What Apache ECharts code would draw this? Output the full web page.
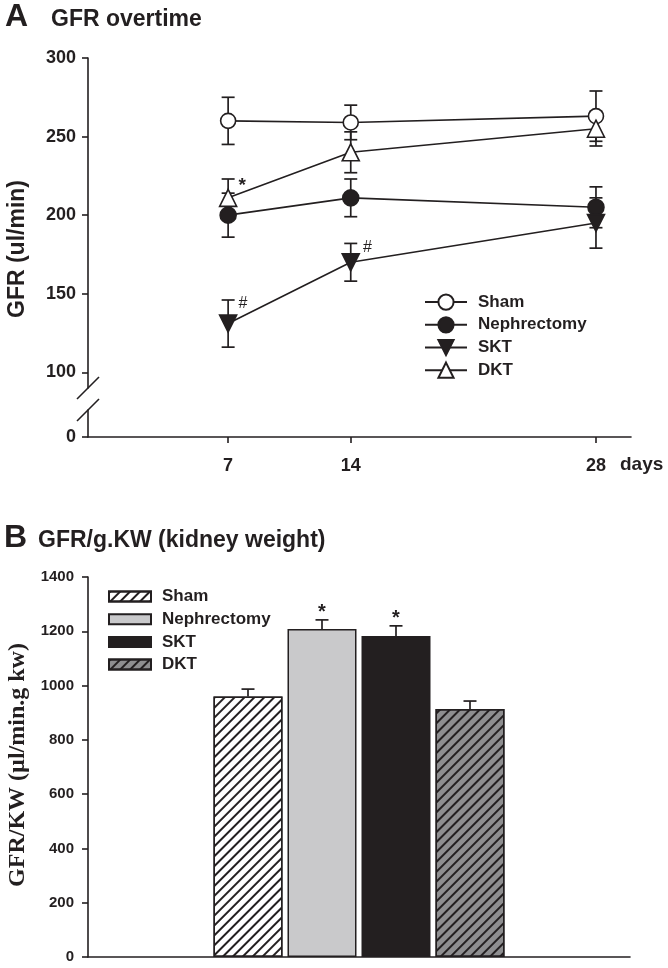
<!DOCTYPE html>
<html><head><meta charset="utf-8">
<script src="https://cdn.jsdelivr.net/npm/echarts@6/dist/echarts.min.js"></script>
<style>html,body{margin:0;padding:0;background:#fff}#c{width:668px;height:968px}</style>
</head><body><div id="c"></div>
<script>
// ---------- Panel A data ----------
const days = [7, 14, 28];
const dayTicks = [7, 14, 28];
const gfrTicksA = [100, 150, 200, 250, 300];
const lowerTicksA = [0];
const shamGFR = [260, 259, 263];
const shamSE = [15, 11, 16];
const nephGFR = [200, 211, 205];
const nephSE = [14, 12, 13];
const sktGFR = [131, 170, 195];
const sktSE = [15, 12, 16];
const dktGFR = [211, 240, 255];
const dktSE = [12, 13, 11];
const dktMarks = ['*', '', ''];
const sktMarks = ['#', '#', ''];
// ---------- Panel B data ----------
const groupsB = ['Sham', 'Nephrectomy', 'SKT', 'DKT'];
const gfrKW = [960, 1208, 1183, 914];
const gfrKWSE = [27, 34, 37, 29];
const marksB = ['', '*', '*', ''];

const INK = '#231f20';
const SANS = "'Liberation Sans', Arial, sans-serif";
const SERIF = "'Liberation Serif', 'Times New Roman', serif";
const axisLS = { color: INK, width: 1.6 };

const chart = echarts.init(document.getElementById('c'), null, { renderer: 'canvas' });

function errA(name, vals, se) {
  return {
    type: 'custom', name: name + ' SE', xAxisIndex: 0, yAxisIndex: 0, z: 2, silent: true, clip: false,
    data: days.map((d, i) => [d, vals[i] - se[i], vals[i] + se[i]]),
    renderItem(params, api) {
      const lo = api.coord([api.value(0), api.value(1)]);
      const hi = api.coord([api.value(0), api.value(2)]);
      const w = 6.5;
      const style = { stroke: INK, lineWidth: 1.7 };
      return { type: 'group', children: [
        { type: 'line', shape: { x1: lo[0], y1: lo[1], x2: hi[0], y2: hi[1] }, style },
        { type: 'line', shape: { x1: lo[0] - w, y1: lo[1], x2: lo[0] + w, y2: lo[1] }, style },
        { type: 'line', shape: { x1: hi[0] - w, y1: hi[1], x2: hi[0] + w, y2: hi[1] }, style }
      ] };
    }
  };
}

function lineA(name, vals, symbol, size, fill, rotate, marks, labelOpts) {
  return {
    type: 'line', name: name, xAxisIndex: 0, yAxisIndex: 0, z: 3,
    symbol: symbol, symbolSize: size, symbolRotate: rotate, showAllSymbol: true,
    lineStyle: { color: INK, width: 1.6 },
    itemStyle: { color: fill, borderColor: INK, borderWidth: 1.6 },
    emphasis: { disabled: true },
    data: days.map((d, i) => {
      if (marks && marks[i]) {
        return { value: [d, vals[i]], label: Object.assign({ show: true, formatter: marks[i] }, labelOpts[i]) };
      }
      return [d, vals[i]];
    })
  };
}

const hatch = { symbol: 'rect', symbolSize: 1, color: INK, dashArrayX: [1, 0], dashArrayY: [2, 4.5], rotation: -Math.PI / 4 };
const barStyles = [
  { color: '#ffffff', decal: hatch },
  { color: '#c9c9cb' },
  { color: INK },
  { color: '#8e8e90', decal: hatch }
];
const barW = 69, barGapPx = 5;
const plain = v => String(v);

const option = {
  animation: false,
  backgroundColor: '#ffffff',
  title: [
    { text: 'A', left: 5, top: 1, padding: 0, textStyle: { fontFamily: SANS, fontWeight: 'bold', fontSize: 32, color: INK } },
    { text: 'GFR overtime', left: 51, top: 8, padding: 0, textStyle: { fontFamily: SANS, fontWeight: 'bold', fontSize: 23, color: INK } },
    { text: 'B', left: 4, top: 522, padding: 0, textStyle: { fontFamily: SANS, fontWeight: 'bold', fontSize: 32, color: INK } },
    { text: 'GFR/g.KW (kidney weight)', left: 38, top: 529, padding: 0, textStyle: { fontFamily: SANS, fontWeight: 'bold', fontSize: 23, color: INK } }
  ],
  legend: [
    {
      data: ['Sham', 'Nephrectomy', 'SKT', 'DKT'], orient: 'vertical', left: 424, top: 293.5, padding: 0,
      itemWidth: 42, itemHeight: 19, itemGap: 5.5, selectedMode: false,
      textStyle: { fontFamily: SANS, fontWeight: 'bold', fontSize: 17, color: INK, padding: [0, 0, 0, 6] }
    },
    {
      data: groupsB.map(g => g + ' '), orient: 'vertical', left: 108, top: 588, padding: 0,
      itemWidth: 42, itemHeight: 10, itemGap: 5.7, icon: 'rect', selectedMode: false,
      formatter: n => n.trim(),
      textStyle: { fontFamily: SANS, fontWeight: 'bold', fontSize: 17, color: INK, padding: [0, 0, 0, 6] }
    }
  ],
  grid: [
    { left: 88, top: 58, width: 543, height: 330, outerBoundsMode: 'none', containLabel: false },
    { left: 88, top: 410, width: 543, height: 27, outerBoundsMode: 'none', containLabel: false },
    { left: 88, top: 577, width: 542, height: 380, outerBoundsMode: 'none', containLabel: false }
  ],
  xAxis: [
    { gridIndex: 0, type: 'value', min: -1, max: 30, show: false },
    { gridIndex: 1, type: 'value', min: -1, max: 30,
      axisLine: { show: true, onZero: false, lineStyle: axisLS },
      axisTick: { show: true, length: 6, customValues: dayTicks, lineStyle: axisLS },
      axisLabel: { customValues: dayTicks, formatter: plain, margin: 20, fontFamily: SANS, fontWeight: 'bold', fontSize: 18, color: INK },
      splitLine: { show: false } },
    { gridIndex: 2, type: 'category', data: ['GFR/KW'],
      axisLine: { show: true, onZero: false, lineStyle: axisLS }, axisTick: { show: false }, axisLabel: { show: false } }
  ],
  yAxis: [
    { gridIndex: 0, type: 'value', min: 90, max: 300,
      axisLine: { show: true, onZero: false, lineStyle: axisLS },
      axisTick: { show: true, length: 6, customValues: gfrTicksA, lineStyle: axisLS },
      axisLabel: { customValues: gfrTicksA, formatter: plain, margin: 12, fontFamily: SANS, fontWeight: 'bold', fontSize: 18, color: INK },
      splitLine: { show: false } },
    { gridIndex: 1, type: 'value', min: 0, max: 10,
      axisLine: { show: true, onZero: false, lineStyle: axisLS },
      axisTick: { show: true, length: 6, customValues: lowerTicksA, lineStyle: axisLS },
      axisLabel: { customValues: lowerTicksA, formatter: plain, margin: 12, fontFamily: SANS, fontWeight: 'bold', fontSize: 18, color: INK },
      splitLine: { show: false } },
    { gridIndex: 2, type: 'value', min: 0, max: 1400, interval: 200,
      axisLine: { show: true, onZero: false, lineStyle: axisLS },
      axisTick: { show: true, length: 6, lineStyle: axisLS },
      axisLabel: { formatter: plain, margin: 14, fontFamily: SANS, fontWeight: 'bold', fontSize: 15, color: INK },
      splitLine: { show: false } }
  ],
  graphic: [
    { type: 'line', shape: { x1: 77, y1: 399, x2: 99, y2: 377 }, style: { stroke: INK, lineWidth: 1.6 } },
    { type: 'line', shape: { x1: 77, y1: 421, x2: 99, y2: 399 }, style: { stroke: INK, lineWidth: 1.6 } },
    { type: 'text', x: 18, y: 249, rotation: Math.PI / 2,
      style: { text: 'GFR (ul/min)', align: 'center', verticalAlign: 'middle', font: "bold 23px " + SANS, fill: INK } },
    { type: 'text', x: 620, y: 465,
      style: { text: 'days', align: 'left', verticalAlign: 'middle', font: "bold 19px " + SANS, fill: INK } },
    { type: 'text', x: 18, y: 765, rotation: Math.PI / 2,
      style: { text: 'GFR/KW (\u00b5l/min.g kw)', align: 'center', verticalAlign: 'middle', font: "bold 24px " + SERIF, fill: INK } }
  ],
  series: [
    errA('Sham', shamGFR, shamSE),
    errA('Nephrectomy', nephGFR, nephSE),
    errA('SKT', sktGFR, sktSE),
    errA('DKT', dktGFR, dktSE),
    lineA('Sham', shamGFR, 'circle', 15, '#ffffff', 0),
    lineA('Nephrectomy', nephGFR, 'circle', 16, INK, 0),
    lineA('SKT', sktGFR, 'triangle', 17, INK, 180, sktMarks, [
      { position: 'right', distance: 1, offset: [0, -20], fontFamily: SANS, fontSize: 16, color: INK },
      { position: 'right', distance: 1, offset: [2, -15], fontFamily: SANS, fontSize: 16, color: INK }
    ]),
    lineA('DKT', dktGFR, 'triangle', 17, '#ffffff', 0, dktMarks, [
      { position: 'right', distance: 1, offset: [0, -12], fontFamily: SANS, fontWeight: 'bold', fontSize: 19, color: INK }
    ]),
    ...groupsB.map((g, i) => ({
      type: 'bar', name: g + ' ', xAxisIndex: 2, yAxisIndex: 2, barWidth: barW, barGap: (barGapPx / barW * 100).toFixed(2) + '%',
      data: [gfrKW[i]], z: 2,
      itemStyle: Object.assign({ borderColor: INK, borderWidth: 1.5 }, barStyles[i]),
      emphasis: { disabled: true }
    })),
    {
      type: 'custom', name: 'GFR/KW SE', xAxisIndex: 2, yAxisIndex: 2, z: 3, silent: true, clip: false,
      data: groupsB.map((g, i) => [0, gfrKW[i], gfrKW[i] + gfrKWSE[i], i]),
      renderItem(params, api) {
        const idx = api.value(3);
        const dx = (idx - (groupsB.length - 1) / 2) * (barW + barGapPx);
        const lo = api.coord([0, api.value(1)]);
        const hi = api.coord([0, api.value(2)]);
        const x = lo[0] + dx, w = 6.5;
        const style = { stroke: INK, lineWidth: 1.7 };
        const kids = [
          { type: 'line', shape: { x1: x, y1: lo[1], x2: x, y2: hi[1] }, style },
          { type: 'line', shape: { x1: x - w, y1: hi[1], x2: x + w, y2: hi[1] }, style }
        ];
        const m = marksB[idx];
        if (m) kids.push({ type: 'text', x: x, y: hi[1] - 7,
          style: { text: m, align: 'center', verticalAlign: 'middle', font: 'bold 20px ' + SANS, fill: INK } });
        return { type: 'group', children: kids };
      }
    }
  ]
};
chart.setOption(option);
</script>
</body></html>
